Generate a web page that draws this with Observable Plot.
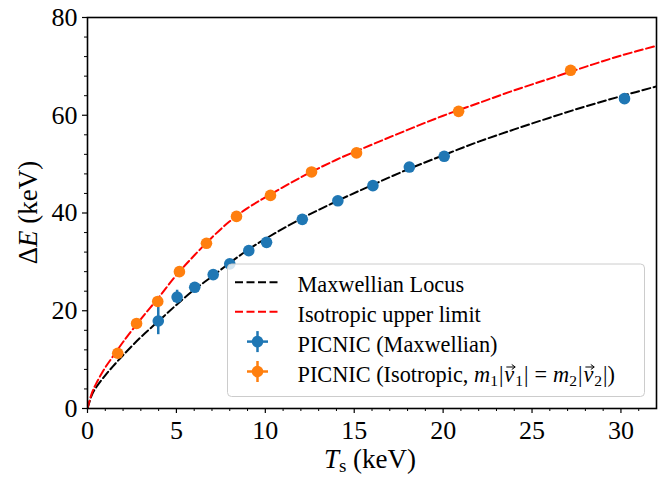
<!DOCTYPE html>
<html>
<head>
<meta charset="utf-8">
<script src="https://cdn.jsdelivr.net/npm/d3@7"></script>
<script src="https://cdn.jsdelivr.net/npm/@observablehq/plot@0.6"></script>
<style>
  html, body { margin: 0; padding: 0; background: white; }
  svg { display: block; }
</style>
</head>
<body>
<div id="chart"></div>
<script>
// Curves
const curveT = [0, 0.25, 0.5, 1, 1.5, 2, 3, 4, 5, 6, 7, 8, 9, 10, 12, 14, 16, 18, 20, 22, 24, 26, 28, 30, 32];
const maxwellLocus = [0, 2.8, 4.4, 6.8, 8.9, 10.9, 14.6, 17.9, 21.2, 24.3, 27.0, 29.8, 32.4, 34.7, 38.8, 42.4, 45.7, 48.9, 51.8, 54.6, 57.1, 59.5, 61.8, 63.9, 65.9];
const isoLimit = [0, 3.2, 5.2, 8.4, 11.0, 13.6, 18.3, 22.7, 27.3, 31.3, 35.0, 38.3, 41.0, 43.2, 47.3, 50.9, 54.0, 57.0, 59.9, 62.5, 65.1, 67.5, 69.9, 72.2, 74.2];

// PICNIC (Maxwellian)
const blueT = [3.98, 5.04, 6.03, 7.07, 8.0, 9.07, 10.07, 12.08, 14.08, 16.05, 18.1, 20.06, 30.2];
const blueE = [17.9, 22.8, 24.8, 27.4, 29.6, 32.3, 34.0, 38.7, 42.5, 45.6, 49.4, 51.6, 63.4];
const blueErr = [2.8, 1.4, 0.4, 0.3, 0.3, 0.3, 0.3, 0.3, 0.3, 0.3, 0.3, 0.3, 0.3];

// PICNIC (Isotropic)
const orangeT = [1.7, 2.76, 3.95, 5.17, 6.69, 8.38, 10.29, 12.6, 15.13, 20.87, 27.17];
const orangeE = [11.3, 17.4, 21.9, 28.0, 33.8, 39.3, 43.6, 48.4, 52.3, 60.8, 69.2];

// Ticks
const xTicks = [0, 5, 10, 15, 20, 25, 30];
const xMinor = [1,2,3,4,6,7,8,9,11,12,13,14,16,17,18,19,21,22,23,24,26,27,28,29,31];
const yTicks = [0, 20, 40, 60, 80];
const yMinor = [4,8,12,16,24,28,32,36,44,48,52,56,64,68,72,76];

const legendLabels = ["Maxwellian Locus", "Isotropic upper limit", "PICNIC (Maxwellian)", "PICNIC (Isotropic, "];

const BLUE = "#1f77b4", ORANGE = "#ff7f0e";
const curves = curveT.map((t, i) => ({T: t, mx: maxwellLocus[i], iso: isoLimit[i]}));
const blue = blueT.map((t, i) => ({T: t, E: blueE[i], err: blueErr[i]}));
const orange = orangeT.map((t, i) => ({T: t, E: orangeE[i]}));

const FONT = "'Liberation Serif', 'Times New Roman', serif";
const R = 5.8;
const LFS = 22.3;

const svg = Plot.plot({
  width: 666, height: 478,
  marginLeft: 87, marginRight: 10, marginTop: 17, marginBottom: 70,
  x: {domain: [0, 32]},
  y: {domain: [0, 80]},
  style: {fontFamily: FONT, fontSize: "26px", background: "white", color: "black"},
  marks: [
    Plot.line(curves, {x: "T", y: "mx", stroke: "black", strokeWidth: 2, strokeDasharray: "8,3.5", curve: "catmull-rom", clip: true}),
    Plot.line(curves, {x: "T", y: "iso", stroke: "red", strokeWidth: 2, strokeDasharray: "8,3.5", curve: "catmull-rom", clip: true}),
    Plot.ruleX(blue, {x: "T", y1: d => d.E - d.err, y2: d => d.E + d.err, stroke: BLUE, strokeWidth: 2.5}),
    Plot.dot(blue, {x: "T", y: "E", r: R, fill: BLUE}),
    Plot.dot(orange, {x: "T", y: "E", r: R, fill: ORANGE}),
    Plot.axisX(xTicks, {tickSize: 5, tickPadding: 7, fontSize: 26, label: null, strokeWidth: 1.2}),
    Plot.axisX(xMinor, {tickSize: 3, tickFormat: () => "", label: null, strokeWidth: 1}),
    Plot.axisY(yTicks, {tickSize: 5, tickPadding: 5, fontSize: 26, label: null, strokeWidth: 1.2}),
    Plot.axisY(yMinor, {tickSize: 3, tickFormat: () => "", label: null, strokeWidth: 1}),
    Plot.frame({stroke: "black", strokeWidth: 1.6})
  ]
});

document.getElementById("chart").appendChild(svg);

const s = d3.select(svg);

// Axis labels
const xl = s.append("text")
  .attr("x", 370).attr("y", 468)
  .attr("text-anchor", "middle")
  .attr("font-family", FONT).attr("font-size", 27).attr("fill", "black");
xl.append("tspan").attr("font-style", "italic").text("T");
xl.append("tspan").attr("font-size", 19).attr("dy", 4).text("s");
xl.append("tspan").attr("dy", -4).text(" (keV)");

const yl = s.append("text")
  .attr("transform", "translate(37,212.5) rotate(-90)")
  .attr("text-anchor", "middle")
  .attr("font-family", FONT).attr("font-size", 27).attr("fill", "black");
yl.append("tspan").text("Δ");
yl.append("tspan").attr("font-style", "italic").text("E");
yl.append("tspan").text(" (keV)");

// Legend
const lg = s.append("g").attr("font-family", FONT).attr("font-size", LFS)
  .attr("fill", "black").attr("text-anchor", "start");
lg.append("rect")
  .attr("x", 227.5).attr("y", 264).attr("width", 417).attr("height", 132.5)
  .attr("rx", 4).attr("fill", "white").attr("fill-opacity", 0.8)
  .attr("stroke", "#cccccc").attr("stroke-width", 1);

const rowY = [282.3, 311.8, 341.6, 371.5];
const lineX1 = 235, lineX2 = 279.5, textX = 297.5, mx = 257.5;

[["black", 0], ["red", 1]].forEach(([c, i]) => {
  lg.append("line").attr("x1", lineX1).attr("x2", lineX2).attr("y1", rowY[i]).attr("y2", rowY[i])
    .attr("stroke", c).attr("stroke-width", 2).attr("stroke-dasharray", "8,3.5");
});
[[BLUE, 2], [ORANGE, 3]].forEach(([c, i]) => {
  lg.append("line").attr("x1", mx - 10.5).attr("x2", mx + 10.5).attr("y1", rowY[i]).attr("y2", rowY[i])
    .attr("stroke", c).attr("stroke-width", 2.5);
  lg.append("line").attr("x1", mx).attr("x2", mx).attr("y1", rowY[i] - 10.5).attr("y2", rowY[i] + 10.5)
    .attr("stroke", c).attr("stroke-width", 2.5);
  lg.append("circle").attr("cx", mx).attr("cy", rowY[i]).attr("r", R).attr("fill", c);
});

for (let i = 0; i < 3; i++) {
  lg.append("text").attr("x", textX).attr("y", rowY[i] + 10).text(legendLabels[i]);
}

// Last entry with math, placed piece by piece
const pieces = [
  {t: legendLabels[3]},
  {t: "m", it: true},
  {t: "1", sub: true},
  {t: "|", pad: 1},
  {t: "v", it: true, arrow: true, pad: 1},
  {t: "1", sub: true},
  {t: "|", pad: 6},
  {t: "=", pad: 6},
  {t: "m", it: true},
  {t: "2", sub: true},
  {t: "|", pad: 1},
  {t: "v", it: true, arrow: true, pad: 1},
  {t: "2", sub: true},
  {t: "|)"}
];
let cx = textX;
const base = rowY[3] + 10;
pieces.forEach(p => {
  const el = lg.append("text")
    .attr("x", cx)
    .attr("y", p.sub ? base + 4 : base)
    .attr("font-size", p.sub ? 15.5 : LFS)
    .attr("font-style", p.it ? "italic" : null)
    .attr("xml:space", "preserve")
    .style("white-space", "pre")
    .text(p.t);
  const w = el.node().getComputedTextLength();
  if (p.arrow) {
    const ax1 = cx + 2, ax2 = cx + w + 1, ay = base - 14.5;
    lg.append("line").attr("x1", ax1).attr("x2", ax2 - 1).attr("y1", ay).attr("y2", ay)
      .attr("stroke", "black").attr("stroke-width", 1);
    lg.append("path").attr("d", `M${ax2 - 3.5},${ay - 2.5} L${ax2},${ay} L${ax2 - 3.5},${ay + 2.5}`)
      .attr("fill", "none").attr("stroke", "black").attr("stroke-width", 1);
  }
  cx += w + (p.sub ? 1 : 0) + (p.pad || 0);
});
</script>
</body>
</html>
